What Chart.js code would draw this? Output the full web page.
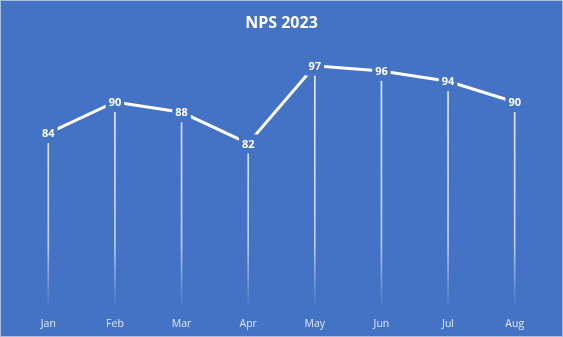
<!DOCTYPE html>
<html>
<head>
<meta charset="utf-8">
<script src="https://cdn.jsdelivr.net/npm/chart.js@4"></script>
<style>
  html, body { margin: 0; padding: 0; background: #4472C4; }
  #wrap { width: 563px; height: 337px; box-sizing: border-box; border: 1px solid #a9bde3; }
</style>
</head>
<body>
<div id="wrap"><canvas id="npsChart" width="561" height="335"></canvas></div>
<script>
const months = ['Jan', 'Feb', 'Mar', 'Apr', 'May', 'Jun', 'Jul', 'Aug'];
const npsScores = [84, 90, 88, 82, 97, 96, 94, 90];
const chartTitle = 'NPS 2023';
const bgBlue = '#4472C4';

// labels with a blue box behind them, so the line breaks round the number
const valueLabels = {
    id: 'valueLabels',
    afterDatasetsDraw(chart) {
        const ctx = chart.ctx;
        const meta = chart.getDatasetMeta(1);
        ctx.save();
        ctx.font = 'bold 11px "Open Sans"';
        ctx.textAlign = 'center';
        ctx.textBaseline = 'middle';
        meta.data.forEach((pt, i) => {
            const txt = String(npsScores[i]);
            const w = ctx.measureText(txt).width;
            ctx.fillStyle = bgBlue;
            ctx.fillRect(pt.x - w / 2 - 3, pt.y - 9, w + 6, 19);
            ctx.fillStyle = '#ffffff';
            ctx.fillText(txt, pt.x, pt.y + 1);
        });
        ctx.restore();
    }
};

const ctx = document.getElementById('npsChart').getContext('2d');
new Chart(ctx, {
    data: {
        labels: months,
        datasets: [{
            type: 'bar',
            data: npsScores,
            barThickness: 1,
            backgroundColor: function (c) {
                const area = c.chart.chartArea;
                if (!area) return 'rgba(255,255,255,0.8)';
                const g = c.chart.ctx.createLinearGradient(0, area.top, 0, area.bottom);
                g.addColorStop(0, 'rgba(255,255,255,0.9)');
                g.addColorStop(0.75, 'rgba(255,255,255,0.65)');
                g.addColorStop(1, 'rgba(255,255,255,0)');
                return g;
            },
            order: 2
        }, {
            type: 'line',
            data: npsScores,
            borderColor: '#ffffff',
            borderWidth: 3,
            pointRadius: 0,
            tension: 0,
            order: 1
        }]
    },
    options: {
        responsive: false,
        animation: false,
        layout: { padding: { left: 14, right: 14, top: 0, bottom: 3 } },
        plugins: {
            legend: { display: false },
            tooltip: { enabled: false },
            title: {
                display: true,
                text: chartTitle,
                color: '#ffffff',
                font: { family: 'Open Sans', size: 16, weight: 'bold' },
                padding: { top: 13, bottom: 17 }
            }
        },
        scales: {
            x: {
                offset: true,
                grid: { display: false },
                border: { display: false },
                afterFit: function (scale) { scale.height = 24; },
                ticks: {
                    color: '#e3e9f5',
                    font: { family: 'Open Sans', size: 10.5 },
                    padding: 1
                }
            },
            y: {
                display: false,
                min: 50,
                max: 100
            }
        }
    },
    plugins: [valueLabels]
});
</script>
</body>
</html>
